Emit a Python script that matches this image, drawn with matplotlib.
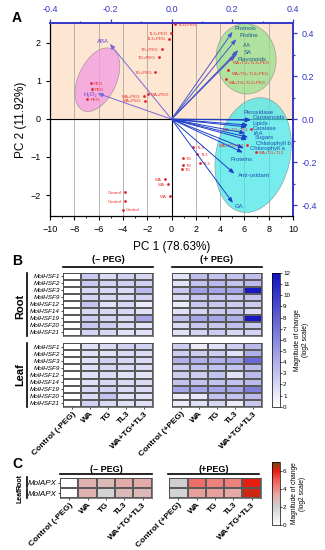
import numpy as np
import matplotlib.pyplot as plt
import matplotlib.transforms as mtransforms
from matplotlib.patches import Ellipse
from matplotlib.lines import Line2D
from matplotlib.colors import LinearSegmentedColormap

plt.rcParams['font.family'] = ['Liberation Sans', 'DejaVu Sans']

# ---------------- data: panel A (PCA biplot) ----------------
score_names = ['TL3+PEG', 'TL3+PEG', 'TL3+PEG', 'TG+PEG', 'TG+PEG', 'TG+PEG',
               'WA+PEG', 'WA+PEG', 'WA+PEG', 'PEG', 'PEG', 'PEG',
               'TL3', 'TL3', 'TL3', 'TG', 'TG', 'TG', 'WA', 'WA', 'WA',
               'Control', 'Control', 'Control',
               'WA+TG+TL3+PEG', 'WA+TG+TL3+PEG', 'WA+TG+TL3+PEG',
               'WA+TG+TL3', 'WA+TG+TL3', 'WA+TG+TL3']
score_x = [0.3, -0.05, -0.2, -0.8, -1.05, -1.33, -1.96, -2.29, -2.18, -6.65, -6.54, -6.93,
           1.8, 2.13, 2.32, 0.92, 0.92, 0.84, -0.56, -0.31, -0.1, -3.84, -3.86, -4.0,
           4.82, 4.69, 4.45, 6.56, 6.25, 6.97]
score_y = [2.5, 2.26, 2.11, 1.83, 1.62, 1.24, 0.65, 0.6, 0.48, 0.95, 0.78, 0.53,
           -0.745, -0.92, -1.15, -1.03, -1.22, -1.32, -1.57, -1.72, -2.02, -1.93, -2.16, -2.38,
           1.58, 1.29, 1.05, -0.26, -0.68, -0.86]
score_side = ['r', 'l', 'l', 'l', 'l', 'l', 'r', 'l', 'l', 'r', 'r', 'r',
              'r', 'r', 'r', 'r', 'r', 'r', 'l', 'l', 'l', 'l', 'l', 'r',
              'r', 'r', 'r', 'l', 'l', 'r']

load_names = ['ABA', 'H₂O₂', 'Phenols', 'Proline', 'AA', 'SA', 'Flavonoids',
              'Peroxidase', 'Carotenoids', 'Lipids', 'Catalase', 'IAA', 'Sugars',
              'Chlorophyll b', 'Chlorophyll a', 'Proteins', 'Anti-oxidant', 'GA']
load_x = [-0.203, -0.243, 0.201, 0.213, 0.220, 0.217, 0.210,
          0.260, 0.262, 0.252, 0.249, 0.243, 0.252, 0.249, 0.238, 0.235, 0.207, 0.202]
load_y = [0.350, 0.120, 0.406, 0.372, 0.321, 0.313, 0.298,
          -0.005, -0.002, -0.027, -0.036, -0.065, -0.084, -0.095, -0.135, -0.155, -0.253, -0.389]
load_tx = [-0.245, -0.291, 0.209, 0.224, 0.234, 0.237, 0.218,
           0.238, 0.266, 0.266, 0.268, 0.270, 0.273, 0.279, 0.259, 0.193, 0.218, 0.209]
load_ty = [0.363, 0.116, 0.422, 0.387, 0.341, 0.308, 0.276,
           0.031, 0.008, -0.020, -0.042, -0.065, -0.087, -0.113, -0.138, -0.189, -0.260, -0.408]
load_group = ['s', 's', 'g', 'g', 'g', 'g', 'g',
              'b', 'b', 'b', 'b', 'b', 'b', 'b', 'b', 'b', 'b', 'b']

# ---------------- data: panel B (HSF heatmap) ----------------
genes = ['MolHSF1', 'MolHSF2', 'MolHSF3', 'MolHSF9', 'MolHSF12',
         'MolHSF14', 'MolHSF19', 'MolHSF20', 'MolHSF21']
cond_minus = ['Control (-PEG)', 'WA', 'TG', 'TL3', 'WA+TG+TL3']
cond_plus = ['Control (+PEG)', 'WA', 'TG', 'TL3', 'WA+TG+TL3']

root_minus = [[0, 2.7, 1.8, 2.3, 2.0],
              [0, 2.7, 2.2, 2.3, 2.3],
              [0, 2.0, 2.0, 1.8, 3.5],
              [0, 2.2, 2.0, 1.8, 2.2],
              [0, 3.0, 1.5, 2.0, 1.0],
              [0, 2.0, 2.0, 2.0, 1.5],
              [0, 2.5, 2.2, 2.0, 4.5],
              [0, 2.8, 2.5, 1.8, 1.5],
              [0, 2.2, 2.0, 1.5, 1.5]]
root_plus = [[1.5, 3.2, 3.0, 3.0, 3.2],
             [1.5, 3.0, 3.5, 3.0, 3.5],
             [2.8, 4.8, 4.5, 4.5, 11.5],
             [1.8, 2.8, 2.8, 2.8, 3.0],
             [1.0, 2.8, 2.8, 2.5, 2.5],
             [1.5, 2.2, 2.5, 2.8, 1.8],
             [3.2, 4.5, 4.5, 4.0, 11.5],
             [1.8, 2.8, 2.8, 3.2, 2.8],
             [1.5, 2.2, 2.5, 2.0, 2.2]]
leaf_minus = [[0, 1.5, 1.8, 2.3, 2.3],
              [0, 1.5, 1.5, 1.8, 1.8],
              [0, 1.5, 2.3, 2.0, 1.8],
              [0, 1.5, 2.0, 1.8, 1.8],
              [0, 1.5, 1.8, 1.5, 1.5],
              [0, 1.5, 2.0, 1.8, 1.8],
              [0, 2.0, 2.3, 1.8, 1.8],
              [0, 1.8, 3.0, 1.5, 1.5],
              [0, 2.3, 1.8, 1.5, 1.5]]
leaf_plus = [[2.5, 1.0, 1.5, 2.5, 3.5],
             [2.5, 2.5, 2.5, 1.5, 4.0],
             [4.0, 4.0, 4.0, 4.5, 7.5],
             [2.5, 3.0, 3.0, 3.0, 3.5],
             [2.5, 2.5, 3.0, 1.5, 3.5],
             [3.0, 3.0, 3.0, 3.0, 3.5],
             [4.5, 4.5, 4.5, 4.5, 6.5],
             [1.0, 1.2, 3.0, 3.0, 3.5],
             [1.0, 1.5, 2.0, 1.0, 2.8]]

# ---------------- data: panel C (APX heatmap) ----------------
apx_rows = ['MolAPX', 'MolAPX']
apx_minus = [[0, 3.0, 2.8, 3.2, 3.2],
             [0, 3.0, 1.8, 2.8, 2.8]]
apx_plus = [[2.0, 4.6, 4.2, 4.2, 6.0],
            [1.8, 3.6, 3.6, 3.3, 6.2]]

W, H = 325, 550
fig = plt.figure(figsize=(3.25, 5.5), dpi=100)


def box(x0, y0, x1, y1):
    return [x0 / W, 1 - y1 / H, (x1 - x0) / W, (y1 - y0) / H]


def ftext(x, y, s, **kw):
    fig.text(x / W, 1 - y / H, s, **kw)


def fline(x0, y0, x1, y1, lw=1.2):
    fig.add_artist(Line2D([x0 / W, x1 / W], [1 - y0 / H, 1 - y1 / H],
                          transform=fig.transFigure, color='black', lw=lw))


BLUE = '#3535c8'

# ================= Panel A =================
ax = fig.add_axes(box(50, 23, 293, 216))
xlim, ylim = (-10, 10), (-2.55, 2.52)
ax.set_xlim(xlim)
ax.set_ylim(ylim)
ax.axhspan(0, ylim[1], color='#fde6d2', zorder=0)
for gx in [-8, -6, -4, -2, 2, 4, 6, 8]:
    ax.axvline(gx, color='#a8a8a8', lw=0.6, zorder=1)
ax.axvline(0, color='black', lw=0.8, zorder=1)
ax.axhline(0, color='black', lw=0.8, zorder=1)

# ellipses drawn in an equal-aspect frame
k = (193 / (ylim[1] - ylim[0])) / (243 / (xlim[1] - xlim[0]))
tr = mtransforms.Affine2D().scale(1, 1 / k) + ax.transData
ell_cx = [-6.1, 6.14, 6.72]
ell_cy = [1.03, 1.58, -0.95]
ell_w = [5.6, 5.8, 9.57]
ell_h = [3.13, 4.94, 6.1]
ell_ang = [65, 95, 78]
ell_col = ['#f29ae2', '#96e08e', '#48e6e6']
for cx, cy, w, h, a, c in zip(ell_cx, ell_cy, ell_w, ell_h, ell_ang, ell_col):
    ax.add_patch(Ellipse((cx, cy * k), w, h, angle=a, transform=tr,
                         facecolor=c, edgecolor='#8a8a8a', lw=0.5, alpha=0.75, zorder=2))

ax.scatter(score_x, score_y, s=4, color='#e8202a', zorder=4, linewidths=0)
for n, x, y, sd in zip(score_names, score_x, score_y, score_side):
    off = 2.2 if sd == 'r' else -2.2
    dy = -3.0 if n == 'WA+TG+TL3+PEG' else -0.6
    ax.annotate(n, (x, y), xytext=(off, dy), textcoords='offset points',
                ha='left' if sd == 'r' else 'right', va='center',
                fontsize=3.2, color='#e8302a', zorder=5)

ax.set_xticks(range(-10, 11, 2))
ax.set_xticks(range(-9, 10, 2), minor=True)
ax.set_yticks([-2, -1, 0, 1, 2])
ax.tick_params(labelsize=6.5, length=3, width=0.8, top=False, right=False)
ax.tick_params(which='minor', length=1.5, width=0.6)
ax.set_xlabel('PC 1 (78.63%)', fontsize=8.5, labelpad=5)
ax.set_ylabel('PC 2 (11.92%)', fontsize=8.5, labelpad=3)
for s in ['top', 'right']:
    ax.spines[s].set_color(BLUE)
    ax.spines[s].set_linewidth(1.4)
for s in ['left', 'bottom']:
    ax.spines[s].set_linewidth(0.9)

ax2 = fig.add_axes(box(50, 23, 293, 216), frameon=False)
ax2.patch.set_alpha(0)
ax2.set_xlim(-0.4, 0.4)
ax2.set_ylim(-0.45, 0.447)
ax2.xaxis.tick_top()
ax2.yaxis.tick_right()
ax2.set_xticks([-0.4, -0.2, 0.0, 0.2, 0.4])
ax2.set_xticks(np.arange(-0.3, 0.31, 0.2), minor=True)
ax2.set_yticks([-0.4, -0.2, 0.0, 0.2, 0.4])
ax2.set_yticks(np.arange(-0.3, 0.31, 0.2), minor=True)
ax2.xaxis.set_major_formatter(plt.FormatStrFormatter('%.1f'))
ax2.yaxis.set_major_formatter(plt.FormatStrFormatter('%.1f'))
ax2.tick_params(which='both', colors=BLUE, labelsize=6.5, length=3, width=0.9,
                top=True, right=True, bottom=False, left=False,
                labeltop=True, labelright=True, labelbottom=False, labelleft=False)
ax2.tick_params(which='minor', length=1.5)

arrow_col = {'s': '#7a68d8', 'g': '#4a5ac8', 'b': '#1f3fc8'}
text_col = {'s': '#6a40d0', 'g': '#1d5a8c', 'b': '#1a4fb4'}
for n, x, y, tx, ty, g in zip(load_names, load_x, load_y, load_tx, load_ty, load_group):
    ax2.annotate('', xy=(x, y), xytext=(0, 0),
                 arrowprops=dict(arrowstyle='-|>,head_length=0.3,head_width=0.12',
                                 color=arrow_col[g], lw=0.7, shrinkA=0, shrinkB=0))
    ax2.text(tx, ty, n, fontsize=4.3, color=text_col[g], ha='left', va='center')

ftext(12, 18, 'A', fontsize=10, fontweight='bold', va='center')

# ================= Panel B =================
cmap_b = LinearSegmentedColormap.from_list('wb', ['#ffffff', '#1010c0'])


def heat(axh, data, cmap, vmax, rows=None, cols=None, rfs=4.6):
    m = axh.pcolormesh(np.array(data, dtype=float), cmap=cmap, vmin=0, vmax=vmax,
                       edgecolors='#5a5a5a', linewidth=0.35)
    nr, nc = np.shape(data)
    axh.set_xlim(0, nc)
    axh.set_ylim(nr, 0)
    for s in axh.spines.values():
        s.set_linewidth(0.5)
        s.set_color('#4a4a4a')
    if rows is not None:
        axh.set_yticks(np.arange(nr) + 0.5)
        axh.set_yticklabels(rows, fontsize=rfs, style='italic')
    else:
        axh.set_yticks([])
    if cols is not None:
        axh.set_xticks(np.arange(nc) + 0.5)
        axh.set_xticklabels(cols, fontsize=6, fontweight='bold', rotation=45,
                            ha='right', rotation_mode='anchor')
    else:
        axh.set_xticks([])
    axh.tick_params(length=1.5, width=0.5, pad=1)
    return m


bx0, bx1, bx2, bx3 = 63.3, 153.3, 171.7, 262.3
m = heat(fig.add_axes(box(bx0, 273, bx1, 335.7)), root_minus, cmap_b, 12, rows=genes)
heat(fig.add_axes(box(bx2, 273, bx3, 335.7)), root_plus, cmap_b, 12)
heat(fig.add_axes(box(bx0, 343.3, bx1, 406.7)), leaf_minus, cmap_b, 12, rows=genes, cols=cond_minus)
heat(fig.add_axes(box(bx2, 343.3, bx3, 406.7)), leaf_plus, cmap_b, 12, cols=cond_plus)

cax = fig.add_axes(box(271.5, 273, 279.5, 406.7))
cb = fig.colorbar(m, cax=cax, ticks=range(0, 13))
cb.outline.set_linewidth(0.5)
cax.tick_params(labelsize=4.5, length=1.5, width=0.5, pad=1)
cax.set_ylabel('Magnitude of change\n(log2 scale)', fontsize=4.8, labelpad=3)

ftext(12, 261, 'B', fontsize=10, fontweight='bold', va='center')
ftext(108, 260, '(– PEG)', fontsize=6.5, fontweight='bold', ha='center', va='center')
ftext(217, 260, '(+ PEG)', fontsize=6.5, fontweight='bold', ha='center', va='center')
fline(62.7, 267.3, 152.7, 267.3)
fline(171.7, 267.3, 261.7, 267.3)
fline(26.7, 273, 26.7, 336)
fline(26.7, 343, 26.7, 407)
ftext(20, 306, 'Root', fontsize=8, fontweight='bold', rotation=90, ha='center', va='center')
ftext(20, 375, 'Leaf', fontsize=8, fontweight='bold', rotation=90, ha='center', va='center')

# ================= Panel C =================
cmap_c = LinearSegmentedColormap.from_list(
    'apx', [(0, '#ffffff'), (2 / 7, '#cfcfcf'), (3.5 / 7, '#e8a4a0'),
            (5 / 7, '#f25a55'), (6 / 7, '#e81c12'), (1, '#6b4a16')])
mc = heat(fig.add_axes(box(60, 478, 151.7, 498)), apx_minus, cmap_c, 7,
          rows=apx_rows, cols=cond_minus, rfs=5.8)
heat(fig.add_axes(box(169.3, 478, 260.7, 498)), apx_plus, cmap_c, 7, cols=cond_plus)

cax2 = fig.add_axes(box(271.5, 462, 279.5, 525))
cb2 = fig.colorbar(mc, cax=cax2, ticks=[0, 2, 4, 6])
cb2.outline.set_linewidth(0.5)
cax2.tick_params(labelsize=4.5, length=1.5, width=0.5, pad=1)
cax2.set_ylabel('Magnitude of change\n(log2 scale)', fontsize=4.8, labelpad=3)

ftext(12, 464, 'C', fontsize=10, fontweight='bold', va='center')
ftext(106, 469, '(– PEG)', fontsize=6.5, fontweight='bold', ha='center', va='center')
ftext(214, 469, '(+PEG)', fontsize=6.5, fontweight='bold', ha='center', va='center')
fline(60, 474.3, 151.7, 474.3)
fline(168.3, 474.3, 259.3, 474.3)
fline(26.7, 477, 26.7, 487)
fline(26.7, 489, 26.7, 498)
ftext(20.5, 482, 'Root', fontsize=5, fontweight='bold', rotation=90, ha='center', va='center')
ftext(20.5, 496, 'Leaf', fontsize=5, fontweight='bold', rotation=90, ha='center', va='center')

fig.savefig('out.png', dpi=100)
